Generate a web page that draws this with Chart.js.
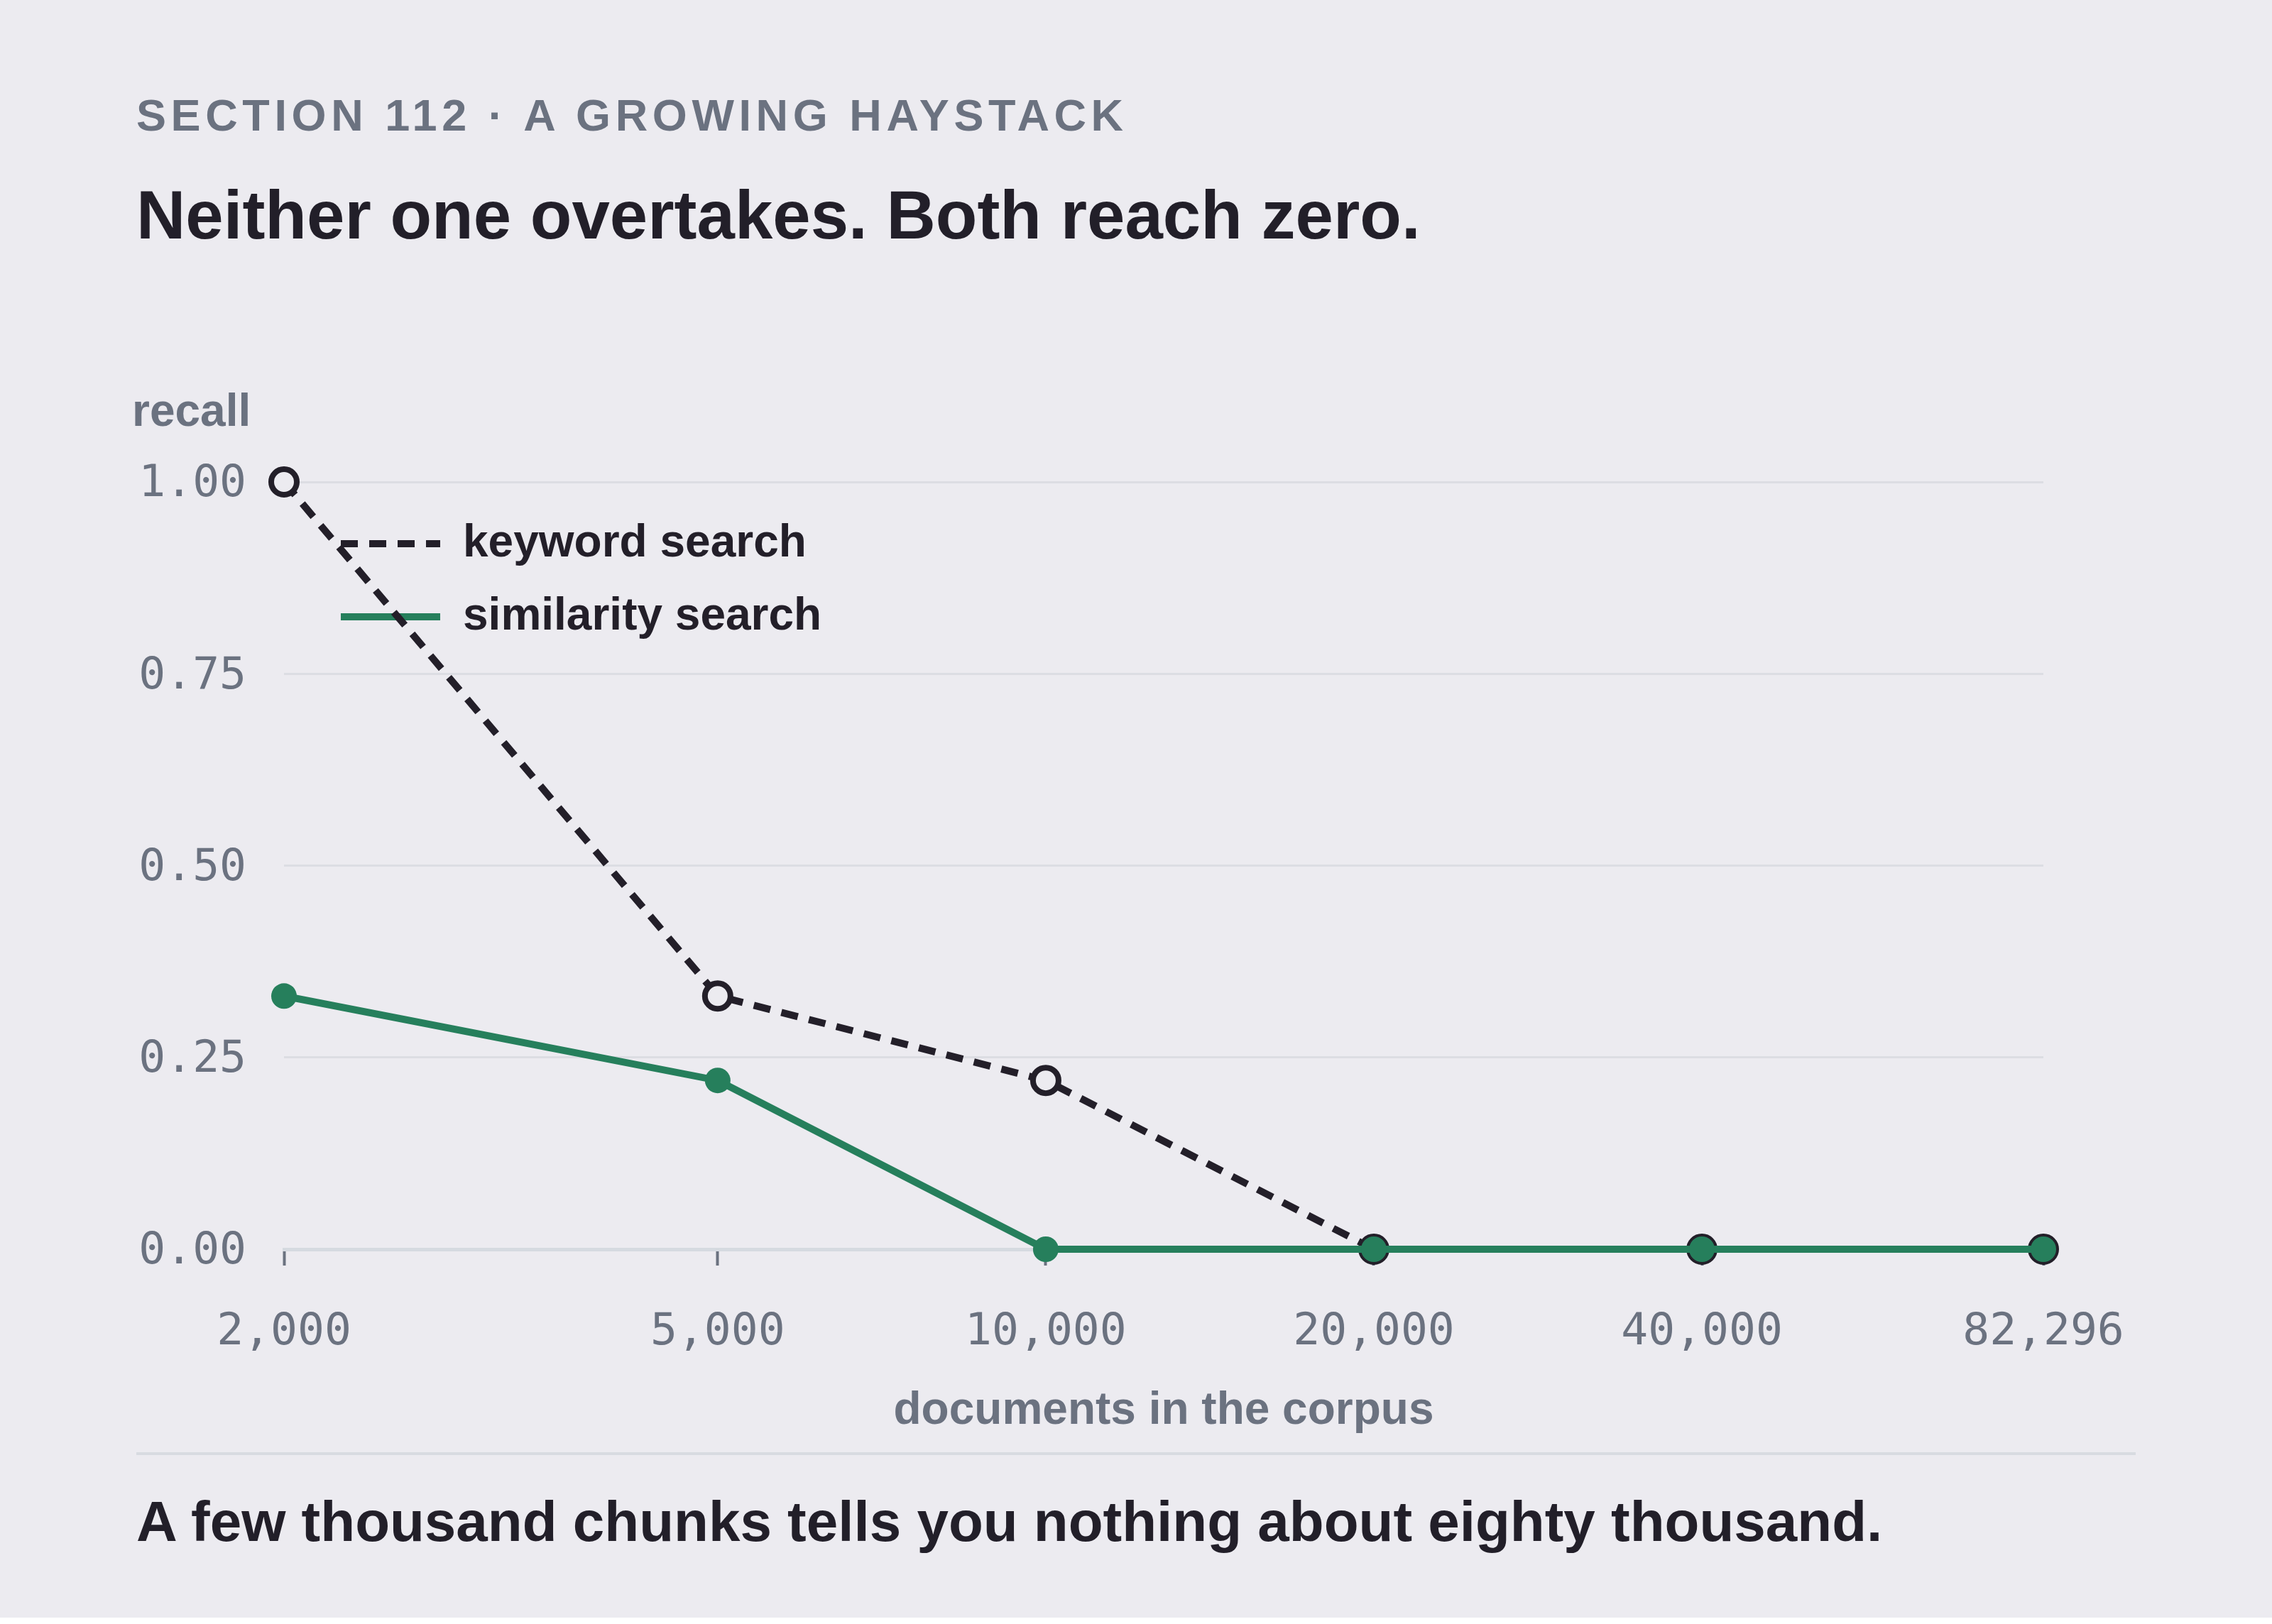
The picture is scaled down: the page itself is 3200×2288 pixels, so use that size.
<!DOCTYPE html>
<html>
<head>
<meta charset="utf-8">
<script src="https://cdn.jsdelivr.net/npm/chart.js@4.4.1/dist/chart.umd.min.js"></script>
<style>
  html, body { margin: 0; padding: 0; background: #ffffff; }
  #panel { position: relative; width: 3200px; height: 2279px; background: #ecebf0; overflow: hidden; }
  .t { position: absolute; white-space: nowrap; line-height: 1; font-family: "Liberation Sans", Arial, sans-serif; font-weight: 700; }
  #eyebrow { left: 192px; top: 131px; font-size: 63px; letter-spacing: 6.6px; color: #6b7280; }
  #title { left: 192px; top: 255px; font-size: 96px; color: #221f29; }
  #ylabel { left: 186px; top: 546px; font-size: 64px; color: #6b7280; }
  #rule { position: absolute; left: 192px; top: 2046px; width: 2816px; height: 4px; background: #d8dbe1; }
  #footer { left: 192px; top: 2104px; font-size: 80px; color: #221f29; }
  #chartwrap { position: absolute; left: 0; top: 520px; width: 3200px; height: 1520px; }
</style>
</head>
<body>
<div id="panel">
  <div class="t" id="eyebrow">SECTION 112 · A GROWING HAYSTACK</div>
  <div class="t" id="title">Neither one overtakes. Both reach zero.</div>
  <div class="t" id="ylabel">recall</div>
  <div id="chartwrap"><canvas id="c" width="3200" height="1520" style="width:3200px;height:1520px"></canvas></div>
  <div id="rule"></div>
  <div class="t" id="footer">A few thousand chunks tells you nothing about eighty thousand.</div>
</div>
<script>
// ---- data ----
const docs = [2000, 5000, 10000, 20000, 40000, 82296];
const keywordRecall = [1.00, 0.33, 0.22, 0.00, 0.00, 0.00];
const similarityRecall = [0.33, 0.22, 0.00, 0.00, 0.00, 0.00];
const xTickValues = [2000, 5000, 10000, 20000, 40000, 82296];
const yTickValues = [0, 0.25, 0.5, 0.75, 1.0];
const seriesNames = ['keyword search', 'similarity search'];

// ---- style ----
const BG = '#ecebf0';
const DARK = '#231f29';
const GREEN = '#267f5c';
const GRAY = '#6b7280';
const SANS = '"Liberation Sans", Arial, sans-serif';
const MONO = '"DejaVu Sans Mono", monospace';

const legendShift = {
  id: 'legendShift',
  afterLayout(chart) {
    const lg = chart.legend;
    if (lg) {
      const h = lg.height;
      lg.left = chart.chartArea.left + 41;
      lg.top = chart.chartArea.top + 16;
      lg.bottom = lg.top + h;
    }
  }
};

new Chart(document.getElementById('c'), {
  type: 'line',
  data: {
    datasets: [
      {
        label: seriesNames[0],
        data: docs.map((d, i) => ({ x: d, y: keywordRecall[i] })),
        borderColor: DARK,
        borderWidth: 10,
        borderDash: [24, 16],
        pointRadius: 18,
        pointHoverRadius: 18,
        pointBorderWidth: 8,
        pointBorderColor: DARK,
        pointBackgroundColor: BG,
        fill: false,
        tension: 0,
        clip: false,
        order: 1
      },
      {
        label: seriesNames[1],
        data: docs.map((d, i) => ({ x: d, y: similarityRecall[i] })),
        borderColor: GREEN,
        borderWidth: 10,
        pointRadius: 18,
        pointHoverRadius: 18,
        pointBorderWidth: 0,
        pointBackgroundColor: GREEN,
        fill: false,
        tension: 0,
        clip: false,
        order: 0
      }
    ]
  },
  options: {
    responsive: false,
    animation: false,
    devicePixelRatio: 1,
    layout: { padding: { top: 159, right: 322, bottom: 0, left: 0 } },
    plugins: {
      tooltip: { enabled: false },
      title: { display: false },
      legend: {
        display: true,
        position: 'chartArea',
        align: 'start',
        labels: {
          usePointStyle: true,
          pointStyleWidth: 140,
          boxWidth: 140,
          padding: 39,
          textAlign: 'left',
          color: DARK,
          font: { family: SANS, size: 64, weight: '700' },
          generateLabels: () => [
            { text: seriesNames[0], strokeStyle: DARK, fillStyle: 'rgba(0,0,0,0)', lineWidth: 10, lineDash: [24, 16], pointStyle: 'line', hidden: false, datasetIndex: 0, fontColor: DARK },
            { text: seriesNames[1], strokeStyle: GREEN, fillStyle: 'rgba(0,0,0,0)', lineWidth: 10, lineDash: [], pointStyle: 'line', hidden: false, datasetIndex: 1, fontColor: DARK }
          ]
        }
      }
    },
    scales: {
      x: {
        type: 'logarithmic',
        min: 2000,
        max: 82296,
        afterBuildTicks: s => { s.ticks = xTickValues.map(v => ({ value: v })); },
        afterFit: s => { s.height = 280; },
        ticks: {
          autoSkip: false,
          maxRotation: 0,
          padding: 57,
          color: GRAY,
          font: { family: MONO, size: 63 },
          callback: v => Number(v).toLocaleString('en-US')
        },
        grid: { drawOnChartArea: false, drawTicks: true, tickLength: 23, color: GRAY, tickWidth: 4 },
        border: { display: true, color: '#d5dae0', width: 5 },
        title: {
          display: true,
          text: 'documents in the corpus',
          color: GRAY,
          font: { family: SANS, size: 64, weight: '700' },
          padding: { top: 0, bottom: 13 }
        }
      },
      y: {
        type: 'linear',
        min: 0,
        max: 1,
        afterBuildTicks: s => { s.ticks = yTickValues.map(v => ({ value: v })); },
        afterFit: s => { s.width = 400; },
        ticks: {
          padding: 53,
          labelOffset: 4,
          color: GRAY,
          font: { family: MONO, size: 63 },
          callback: v => Number(v).toFixed(2)
        },
        grid: { drawTicks: false, color: '#dcdde3', lineWidth: 3 },
        border: { display: false }
      }
    }
  },
  plugins: [legendShift]
});
</script>
</body>
</html>
